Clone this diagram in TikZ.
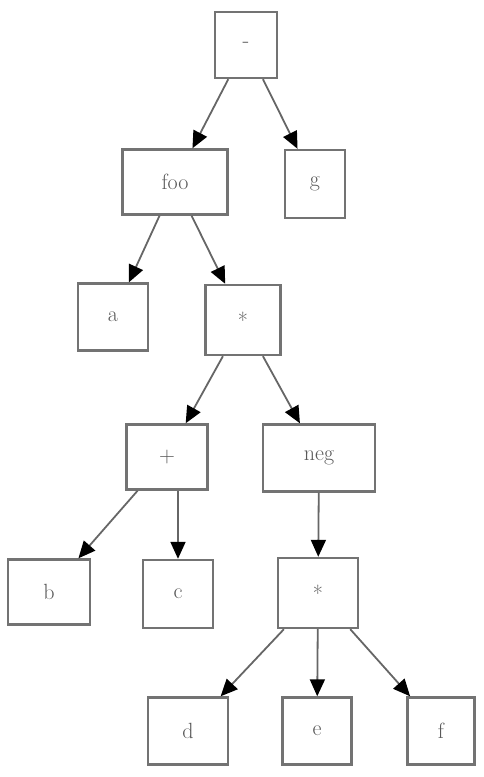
\documentclass[tikz,border=0pt]{standalone}
\usetikzlibrary{arrows.meta}
\begin{document}
\begin{tikzpicture}[x=1pt,y=-1pt,
  tnode/.style={draw=black!55, line width=2.4pt, fill=white, inner sep=0pt,
    font=\fontsize{22}{24}\selectfont, text=black!65},
  edge/.style={draw=black!60, line width=1.8pt,
    -{Triangle[length=17pt,width=15pt,color=black]}}]
\useasboundingbox (0,0) rectangle (483,777);
\node[tnode, minimum width=62pt, minimum height=66pt] (minus) at (246,45) {-};
\node[tnode, minimum width=105pt, minimum height=65pt] (foo) at (175,182) {foo};
\node[tnode, minimum width=60pt, minimum height=68pt] (g) at (315,184) {g};
\node[tnode, minimum width=70pt, minimum height=67pt] (a) at (113,317) {a};
\node[tnode, minimum width=75pt, minimum height=70pt] (mul1) at (243,320) {*};
\node[tnode, minimum width=81pt, minimum height=65pt] (plus) at (167,457) {+};
\node[tnode, minimum width=112pt, minimum height=67pt] (neg) at (319,458) {neg};
\node[tnode, minimum width=82pt, minimum height=65pt] (b) at (49,592) {b};
\node[tnode, minimum width=70pt, minimum height=68pt] (c) at (178,594) {c};
\node[tnode, minimum width=80pt, minimum height=70pt] (mul2) at (318,593) {*};
\node[tnode, minimum width=80pt, minimum height=67pt] (d) at (188,731) {d};
\node[tnode, minimum width=69pt, minimum height=67pt] (e) at (317,731) {e};
\node[tnode, minimum width=67pt, minimum height=67pt] (f) at (441,731) {f};
\draw[edge] (minus) -- (foo);
\draw[edge] (minus) -- (g);
\draw[edge] (foo) -- (a);
\draw[edge] (foo) -- (mul1);
\draw[edge] (mul1) -- (plus);
\draw[edge] (mul1) -- (neg);
\draw[edge] (plus) -- (b);
\draw[edge] (plus.south -| c.north) -- (c.north);
\draw[edge] (neg) -- (mul2);
\draw[edge] (mul2) -- (d);
\draw[edge] (mul2) -- (e);
\draw[edge] (mul2) -- (f);
\end{tikzpicture}
\end{document}
